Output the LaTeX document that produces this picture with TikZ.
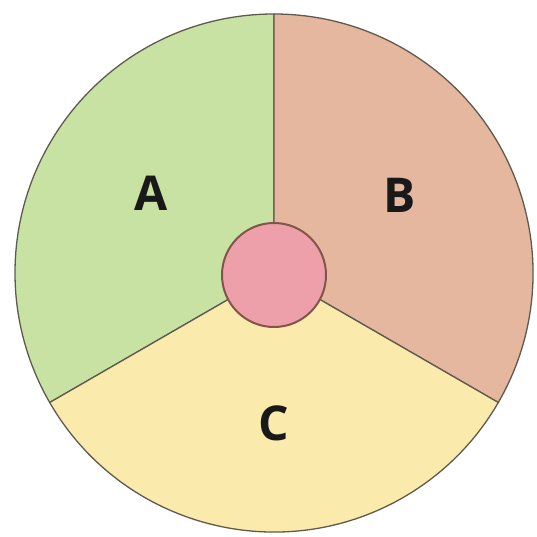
\documentclass[tikz,border=0pt]{standalone}
\usepackage{fontspec}
\setsansfont{Open Sans}
\usepackage{tikz}
\usetikzlibrary{positioning, calc}

\definecolor{secA}{RGB}{200,226,164}
\definecolor{secB}{RGB}{228,183,158}
\definecolor{secC}{RGB}{250,234,172}
\definecolor{hubcol}{RGB}{238,160,170}
\definecolor{rim}{RGB}{95,90,80}
\definecolor{hubrim}{RGB}{130,85,75}

\begin{document}
\begin{tikzpicture}[
  x=1pt, y=1pt,
  sector/.style={draw=rim, line width=1.3pt, line join=round},
  lbl/.style={font=\sffamily\bfseries\fontsize{48}{48}\selectfont, text=black!90},
  hubnode/.style={circle, draw=hubrim, line width=2pt, fill=hubcol, minimum size=104pt, inner sep=0pt}
]
  \useasboundingbox (0,0) rectangle (537,536);
  \coordinate (ctr) at (274,263);

  % three sectors
  \filldraw[sector, fill=secA] (ctr) -- ++(90:259pt) arc[start angle=90, end angle=210, radius=259pt] -- cycle;
  \filldraw[sector, fill=secB] (ctr) -- ++(-30:259pt) arc[start angle=-30, end angle=90, radius=259pt] -- cycle;
  \filldraw[sector, fill=secC] (ctr) -- ++(210:259pt) arc[start angle=210, end angle=330, radius=259pt] -- cycle;

  \node[hubnode] (hub) at (274,261) {};

  \node[lbl] (labA) at (151,343) {A};
  \node[lbl] (labB) at (400,341) {B};
  \node[lbl] (labC) at (274,113) {C};
\end{tikzpicture}
\end{document}
